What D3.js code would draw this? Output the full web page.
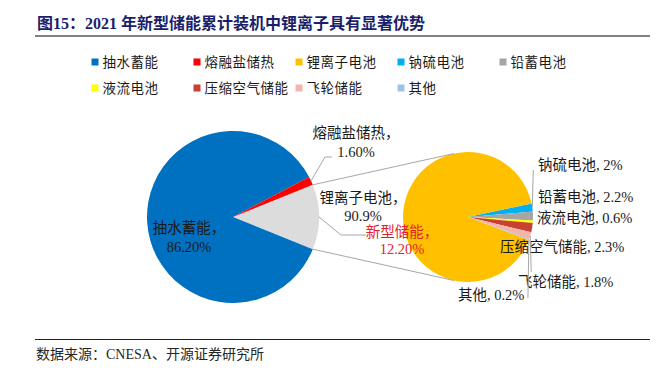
<!DOCTYPE html>
<html><head><meta charset="utf-8">
<script src="https://cdn.jsdelivr.net/npm/d3@7"></script>
<style>
html,body{margin:0;padding:0;background:#fff;}
svg{display:block;}
text{font-family:"Liberation Serif","Noto Sans CJK SC",serif;}
</style></head>
<body>
<svg id="chart" width="663" height="373"></svg>
<script>
// ---- data ----
const titleText = "图15：2021 年新型储能累计装机中锂离子具有显著优势";
const sourceText = "数据来源：CNESA、开源证券研究所";
const mainCategories = ["新型储能", "抽水蓄能", "熔融盐储热"];
const mainValues = [12.2, 86.2, 1.6];
const mainValueLabels = ["12.20%", "86.20%", "1.60%"];
const subCategories = ["钠硫电池", "铅蓄电池", "液流电池", "压缩空气储能", "飞轮储能", "其他", "锂离子电池"];
const subValues = [2, 2.2, 0.6, 2.3, 1.8, 0.2, 90.9];
const subValueLabels = ["2%", "2.2%", "0.6%", "2.3%", "1.8%", "0.2%", "90.9%"];
const legendOrder = ["抽水蓄能", "熔融盐储热", "锂离子电池", "钠硫电池", "铅蓄电池", "液流电池", "压缩空气储能", "飞轮储能", "其他"];
const colorMap = {
  "抽水蓄能": "#0070C0", "熔融盐储热": "#FF0000", "新型储能": "#DCDCDC",
  "锂离子电池": "#FFC000", "钠硫电池": "#00B0F0", "铅蓄电池": "#A5A5A5",
  "液流电池": "#FFFF00", "压缩空气储能": "#C9412F", "飞轮储能": "#F2B5AD", "其他": "#9DC3E6"
};

// ---- layout ----
const svg = d3.select("#chart");
const color = d3.scaleOrdinal().domain(Object.keys(colorMap)).range(Object.values(colorMap));
const main = {cx: 233, cy: 217, r: 86};
const sub = {cx: 468, cy: 217, r: 65};
const lineColor = "#A6A6A6";
const textColor = "#1a1a1a";
const labelSize = 14.5;

// title
svg.append("text").attr("x", 37).attr("y", 23).attr("dy", "0.35em")
  .attr("font-size", 16).attr("font-weight", "bold").attr("fill", "#1b1f6b").text(titleText);
svg.append("line").attr("x1", 35).attr("x2", 650).attr("y1", 36).attr("y2", 36)
  .attr("stroke", "#595959").attr("stroke-width", 1.5);

// legend
const legend = svg.append("g");
legendOrder.forEach((name, i) => {
  const col = i % 5, row = Math.floor(i / 5);
  const x = 91.5 + col * 102, y = 62 + row * 26;
  legend.append("rect").attr("x", x).attr("y", y - 3.5).attr("width", 7).attr("height", 7).attr("fill", color(name));
  legend.append("text").attr("x", x + 11).attr("y", y).attr("dy", "0.35em")
    .attr("font-size", 13.5).attr("fill", textColor).attr("letter-spacing", 0.5).text(name);
});

// helpers
function outerPoint(c, a, rr) { const r = rr || c.r; return [c.cx + r * Math.sin(a), c.cy - r * Math.cos(a)]; }

// main pie
const mainFrac = mainValues[0] / d3.sum(mainValues);
const mainStart = Math.PI / 2 - mainFrac * Math.PI;
const mainPie = d3.pie().sort(null).value(d => d.v).startAngle(mainStart).endAngle(mainStart + 2 * Math.PI);
const mainData = mainPie(mainCategories.map((c, i) => ({c, v: mainValues[i], l: mainValueLabels[i]})));
const mainArc = d3.arc().innerRadius(0).outerRadius(main.r);
svg.append("g").attr("transform", `translate(${main.cx},${main.cy})`)
  .selectAll("path").data(mainData).join("path")
  .attr("d", mainArc).attr("fill", d => color(d.data.c));

// sub pie: small slices start 12° above horizontal
const subStart = Math.PI / 2 - 12 * Math.PI / 180;
const subPie = d3.pie().sort(null).value(d => d.v).startAngle(subStart).endAngle(subStart + 2 * Math.PI);
const subData = subPie(subCategories.map((c, i) => ({c, v: subValues[i], l: subValueLabels[i]})));
const subArc = d3.arc().innerRadius(0).outerRadius(sub.r);
svg.append("g").attr("transform", `translate(${sub.cx},${sub.cy})`)
  .selectAll("path").data(subData).join("path")
  .attr("d", subArc).attr("fill", d => color(d.data.c));

// connector lines (tangent from gray slice edge points to secondary pie)
const grey = mainData[0];
[grey.startAngle, grey.endAngle].forEach((a, k) => {
  const p = outerPoint(main, a);
  const dx = p[0] - sub.cx, dy = -(p[1] - sub.cy);
  const d = Math.hypot(dx, dy);
  const base = Math.atan2(dy, dx);
  const th = Math.acos(sub.r / d);
  const ang = k === 0 ? base - th : base + th;
  const t = [sub.cx + sub.r * Math.cos(ang), sub.cy - sub.r * Math.sin(ang)];
  svg.append("line").attr("x1", p[0]).attr("y1", p[1]).attr("x2", t[0]).attr("y2", t[1])
    .attr("stroke", lineColor).attr("stroke-width", 1);
});

// labels
function label(lines, x, ys, anchor, fill) {
  const t = svg.append("g");
  lines.forEach((s, i) => t.append("text").attr("x", x).attr("y", ys[i]).attr("dy", "0.35em")
    .attr("text-anchor", anchor).attr("font-size", labelSize).attr("fill", fill || textColor).text(s));
}
function leader(pts) {
  svg.append("path").attr("d", d3.line()(pts)).attr("fill", "none").attr("stroke", lineColor).attr("stroke-width", 1);
}
const mid = d => (d.startAngle + d.endAngle) / 2;

// main pie labels
const mm = Object.fromEntries(mainData.map(d => [d.data.c, d]));
{
  const d = mm["熔融盐储热"]; const p = outerPoint(main, mid(d));
  leader([p, [325, 157], [332, 157]]);
  label([d.data.c + "，", d.data.l], 356, [133, 152], "middle");
}
{
  const d = mm["抽水蓄能"];
  label([d.data.c + "，", d.data.l], 189, [228, 247], "middle");
}
{
  const d = mm["新型储能"]; const p = outerPoint(main, mid(d));
  leader([p, [341, 235], [366, 235]]);
  label([d.data.c + "，", d.data.l], 402, [232, 249], "middle", "#E2232A");
}
// sub pie labels
const sm = Object.fromEntries(subData.map(d => [d.data.c, d]));
{
  const d = sm["锂离子电池"];
  label([d.data.c + "，", d.data.l], 363, [198, 216], "middle");
}
{
  const d = sm["钠硫电池"]; const p = outerPoint(sub, mid(d));
  leader([[p[0] + 1, 170], p]);
  label([d.data.c + ", " + d.data.l], 538, [165], "start");
}
label([sm["铅蓄电池"].data.c + ", " + sm["铅蓄电池"].data.l], 538, [197], "start");
label([sm["液流电池"].data.c + ", " + sm["液流电池"].data.l], 537, [218], "start");
label([sm["压缩空气储能"].data.c + ", " + sm["压缩空气储能"].data.l], 500, [247], "start");
{
  const d = sm["飞轮储能"]; const p = outerPoint(sub, mid(d));
  leader([p, [p[0] + 1, 272]]);
  label([d.data.c + ", " + d.data.l], 518, [282], "start");
}
{
  const d = sm["其他"]; const p = outerPoint(sub, mid(d));
  leader([p, [p[0] - 1, 298]]);
  label([d.data.c + ", " + d.data.l], 458, [295], "start");
}

// footer
svg.append("line").attr("x1", 35).attr("x2", 650).attr("y1", 339.5).attr("y2", 339.5)
  .attr("stroke", "#222").attr("stroke-width", 1);
svg.append("text").attr("x", 36).attr("y", 354).attr("dy", "0.35em")
  .attr("font-size", 14).attr("fill", "#262626").text(sourceText);
</script>
</body></html>
